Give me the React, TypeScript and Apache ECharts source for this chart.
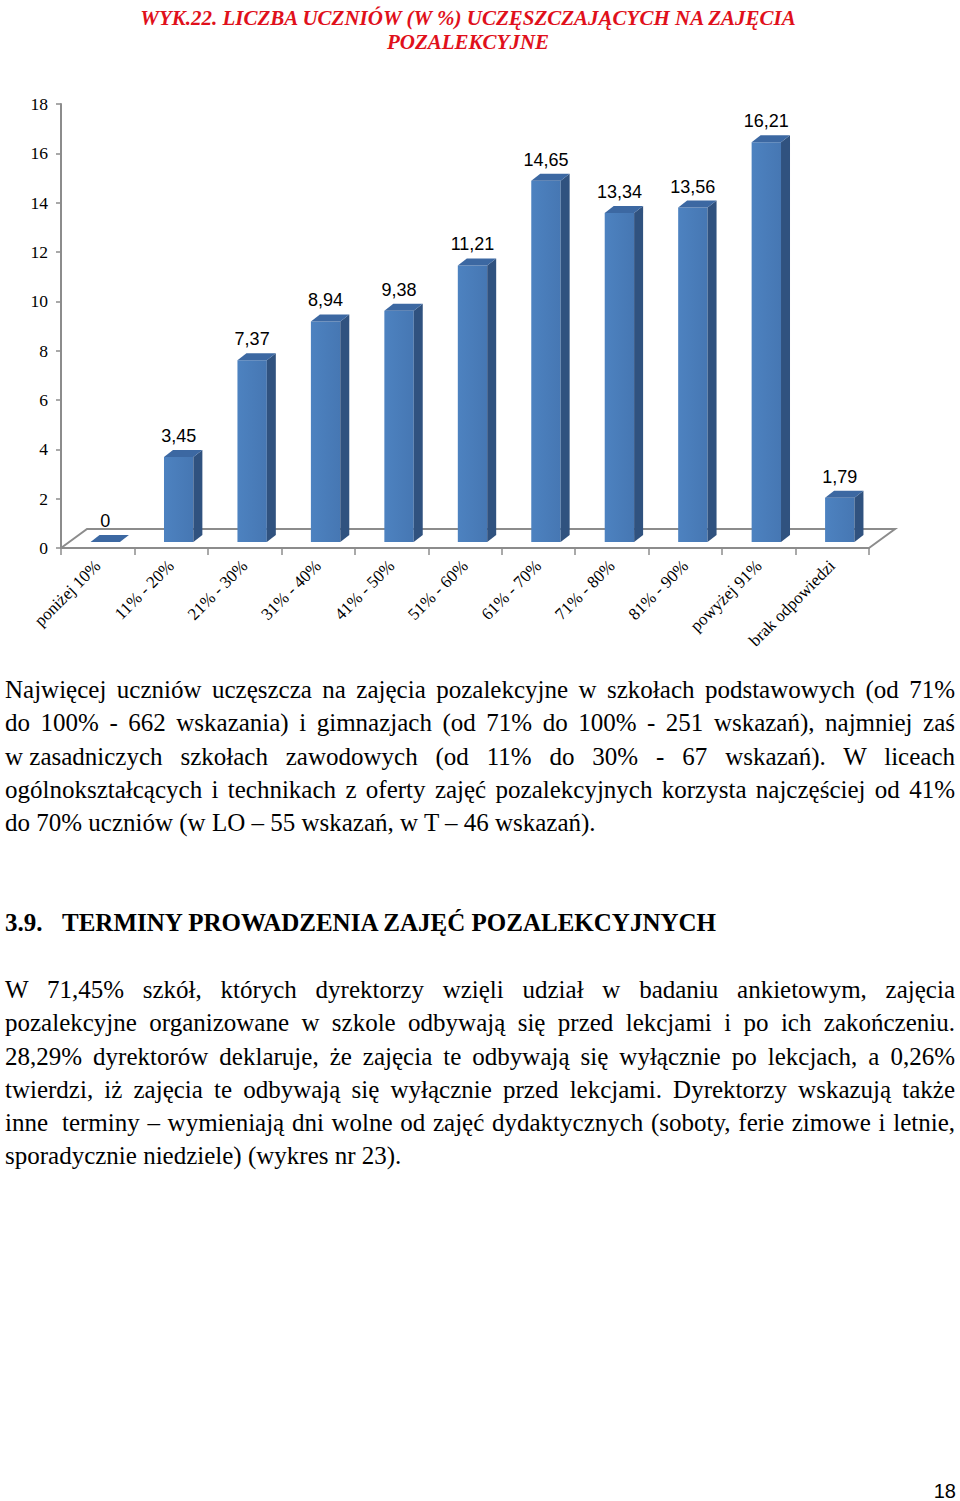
import React, { useEffect, useRef } from "react";
import * as echarts from "echarts";

const titleLines = [
  "WYK.22. LICZBA UCZNIÓW (W %) UCZĘSZCZAJĄCYCH NA ZAJĘCIA",
  "POZALEKCYJNE",
];
const categories = [
  "poniżej 10%",
  "11% - 20%",
  "21% - 30%",
  "31% - 40%",
  "41% - 50%",
  "51% - 60%",
  "61% - 70%",
  "71% - 80%",
  "81% - 90%",
  "powyżej 91%",
  "brak odpowiedzi",
];
const values = [0, 3.45, 7.37, 8.94, 9.38, 11.21, 14.65, 13.34, 13.56, 16.21, 1.79];
const yMin = 0;
const yMax = 18;
const yInterval = 2;

const paragraph1 = [
  "Najwięcej uczniów uczęszcza na zajęcia pozalekcyjne w szkołach podstawowych (od 71%",
  "do 100% - 662 wskazania) i gimnazjach (od 71% do 100% - 251 wskazań), najmniej zaś",
  "w\u00a0zasadniczych szkołach zawodowych (od 11% do 30% - 67 wskazań). W liceach",
  "ogólnokształcących i technikach z oferty zajęć pozalekcyjnych korzysta najczęściej od 41%",
  "do 70% uczniów (w LO – 55 wskazań, w T – 46 wskazań).",
];
const headingNumber = "3.9.";
const headingText = "TERMINY PROWADZENIA ZAJĘĆ POZALEKCYJNYCH";
const paragraph2 = [
  "W 71,45% szkół, których dyrektorzy wzięli udział w badaniu ankietowym, zajęcia",
  "pozalekcyjne organizowane w szkole odbywają się przed lekcjami i po ich zakończeniu.",
  "28,29% dyrektorów deklaruje, że zajęcia te odbywają się wyłącznie po lekcjach, a 0,26%",
  "twierdzi, iż zajęcia te odbywają się wyłącznie przed lekcjami. Dyrektorzy wskazują także",
  "inne\u00a0 terminy – wymieniają dni wolne od zajęć dydaktycznych (soboty, ferie zimowe i letnie,",
  "sporadycznie niedziele) (wykres nr 23).",
];
const pageNumber = "18";

const SIDE = "#30527F";
const TOP = "#3C68A2";
const AXIS = "#8C8C8C";

const fmt = (v: number) => (v === 0 ? "0" : v.toFixed(2).replace(".", ","));

function Chart() {
  const ref = useRef<HTMLDivElement>(null);
  useEffect(() => {
    if (!ref.current) return;
    const chart = echarts.init(ref.current, undefined, { renderer: "svg" });
    const barOffX = 7.5;
    const barOffY = -6;
    const depX = 9;
    const depY = -7;
    const floorX = 26;
    const floorY = -19;
    const titleStyle = {
      align: "center",
      verticalAlign: "middle",
      fontFamily: "Liberation Serif",
      fontWeight: "bold",
      fontStyle: "italic",
      fontSize: 21,
      fill: "#E0101B",
    };
    const option: any = {
      animation: false,
      backgroundColor: "#ffffff",
      graphic: [
        { type: "text", x: 468, y: 18, style: { ...titleStyle, text: titleLines[0] } },
        { type: "text", x: 468, y: 42, style: { ...titleStyle, text: titleLines[1] } },
      ],
      grid: { left: 61, top: 104, width: 808, height: 444, containLabel: false },
      xAxis: {
        type: "category",
        data: categories,
        axisLine: { show: true, lineStyle: { color: AXIS, width: 2 } },
        axisTick: { show: true, length: 7, interval: 0, lineStyle: { color: AXIS, width: 1.5 } },
        axisLabel: {
          interval: 0,
          rotate: 45,
          margin: 15,
          fontFamily: "Liberation Serif",
          fontSize: 17,
          color: "#000",
        },
        splitLine: { show: false },
      },
      yAxis: {
        type: "value",
        min: yMin,
        max: yMax,
        interval: yInterval,
        axisLine: { show: true, lineStyle: { color: AXIS, width: 2 } },
        axisTick: { show: true, length: 5, lineStyle: { color: AXIS, width: 1.5 } },
        axisLabel: {
          margin: 13,
          fontFamily: "Liberation Serif",
          fontSize: 17.5,
          color: "#000",
        },
        splitLine: { show: false },
      },
      series: [
        {
          type: "custom",
          name: "floor",
          silent: true,
          clip: false,
          z: 1,
          data: [[0, 0]],
          renderItem: (params: any) => {
            const cs = params.coordSys;
            const x0 = cs.x;
            const y0 = cs.y + cs.height;
            const x1 = cs.x + cs.width;
            return {
              type: "polyline",
              shape: {
                points: [
                  [x0, y0],
                  [x0 + floorX, y0 + floorY],
                  [x1 + floorX, y0 + floorY],
                  [x1, y0],
                ],
              },
              style: { stroke: AXIS, lineWidth: 2, fill: null },
            };
          },
        },
        {
          type: "custom",
          name: "Liczba uczniów (%)",
          clip: false,
          z: 3,
          encode: { x: 0, y: 1 },
          data: values.map((v, i) => [i, v]),
          renderItem: (params: any, api: any) => {
            const idx = api.value(0);
            const v = api.value(1);
            const base = api.coord([idx, 0]);
            const top = api.coord([idx, v]);
            const bw = api.size([1, 0])[0] * 0.4;
            const cx = base[0] + barOffX;
            const xa = cx - bw / 2;
            const xb = cx + bw / 2;
            const yb = base[1] + barOffY;
            const yt = top[1] + barOffY;
            const children: any[] = [];
            if (v > 0) {
              children.push({
                type: "rect",
                shape: { x: xa, y: yt, width: bw, height: yb - yt },
                style: {
                  fill: new echarts.graphic.LinearGradient(0, 0, 1, 0, [
                    { offset: 0, color: "#4D82C0" },
                    { offset: 1, color: "#4677B3" },
                  ]),
                },
              });
              children.push({
                type: "polygon",
                shape: {
                  points: [
                    [xb, yb],
                    [xb, yt],
                    [xb + depX, yt + depY],
                    [xb + depX, yb + depY],
                  ],
                },
                style: { fill: SIDE },
              });
            }
            children.push({
              type: "polygon",
              shape: {
                points: [
                  [xa, yt],
                  [xb, yt],
                  [xb + depX, yt + depY],
                  [xa + depX, yt + depY],
                ],
              },
              style: { fill: TOP },
            });
            children.push({
              type: "text",
              style: {
                text: fmt(v),
                x: cx,
                y: yt + depY - 14,
                align: "center",
                verticalAlign: "middle",
                fontFamily: "Liberation Sans",
                fontSize: 18,
                fill: "#000",
              },
            });
            return { type: "group", children };
          },
        },
      ],
    };
    chart.setOption(option);
    return () => chart.dispose();
  }, []);
  return (
    <div
      ref={ref}
      style={{ position: "absolute", left: 0, top: 0, width: 960, height: 670 }}
    />
  );
}

const serif = '"Liberation Serif", "Times New Roman", serif';

function renderTokens(text: string) {
  // words joined by a no-break space are kept together and not stretched
  const parts = text.split(/(\S*\u00a0\S*)/);
  return parts.map((p, i) =>
    p.includes("\u00a0") ? (
      <span key={i} style={{ display: "inline-block", whiteSpace: "pre" }}>
        {p.replace("\u00a0", " ")}
      </span>
    ) : (
      <React.Fragment key={i}>{p}</React.Fragment>
    )
  );
}

function Line({ text, top, justify }: { text: string; top: number; justify: boolean }) {
  return (
    <div
      style={{
        position: "absolute",
        left: 5,
        top,
        width: 950,
        height: 33,
        lineHeight: "33px",
        fontFamily: serif,
        fontSize: 25,
        color: "#000",
        textAlign: justify ? "justify" : "left",
        textAlignLast: justify ? "justify" : "left",
      } as any}
    >
      {renderTokens(text)}
    </div>
  );
}

export default function App() {
  const p1Top = 673;
  const p2Top = 973;
  const pitch = 33.25;
  const headStyle: any = {
    position: "absolute",
    top: 906,
    height: 33,
    lineHeight: "33px",
    fontFamily: serif,
    fontSize: 25,
    fontWeight: "bold",
    color: "#000",
    whiteSpace: "nowrap",
  };
  return (
    <div
      style={{
        position: "absolute",
        left: 0,
        top: 0,
        width: 960,
        height: 1501,
        background: "#fff",
        overflow: "hidden",
      }}
    >
      <Chart />
      {paragraph1.map((t, i) => (
        <Line key={"a" + i} text={t} top={p1Top + i * pitch} justify={i < paragraph1.length - 1} />
      ))}
      <div style={{ ...headStyle, left: 5 }}>{headingNumber}</div>
      <div style={{ ...headStyle, left: 62 }}>{headingText}</div>
      {paragraph2.map((t, i) => (
        <Line key={"b" + i} text={t} top={p2Top + i * pitch} justify={i < paragraph2.length - 1} />
      ))}
      <div
        style={{
          position: "absolute",
          right: 4,
          top: 1479,
          fontFamily: '"Liberation Sans", Arial, sans-serif',
          fontSize: 20,
          lineHeight: "24px",
          color: "#000",
        }}
      >
        {pageNumber}
      </div>
    </div>
  );
}
